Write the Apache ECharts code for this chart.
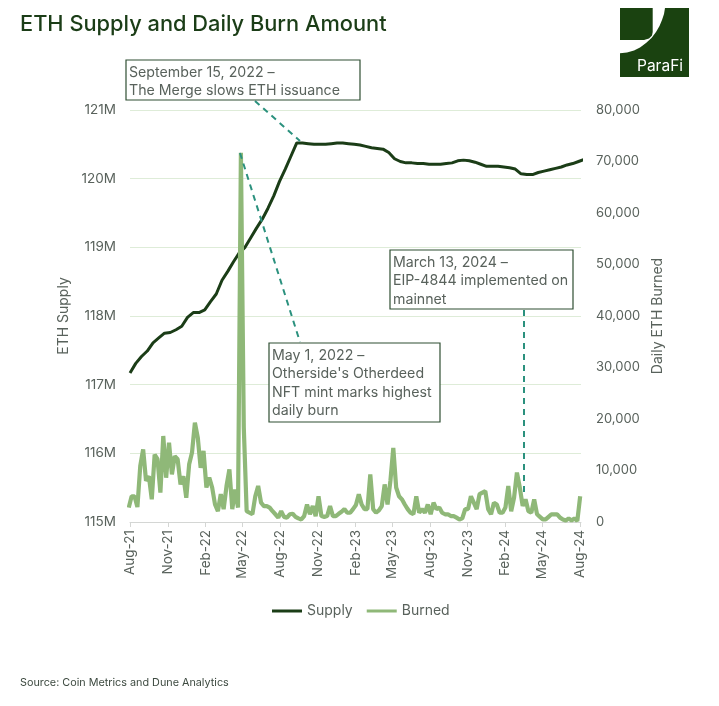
<!DOCTYPE html>
<html>
<head>
<meta charset="utf-8">
<title>ETH Supply and Daily Burn Amount</title>
<script src="https://cdn.jsdelivr.net/npm/echarts@6/dist/echarts.min.js"></script>
<style>
html,body{margin:0;padding:0;background:#fff;}
#chart{width:719px;height:706px;}
</style>
</head>
<body>
<div id="chart"></div>
<script>
var tickDates = ['2021-08-01','2021-11-01','2022-02-01','2022-05-01','2022-08-01','2022-11-01','2023-02-01','2023-05-01','2023-08-01','2023-11-01','2024-02-01','2024-05-01','2024-08-01'];
var tickLabels = ['Aug-21','Nov-21','Feb-22','May-22','Aug-22','Nov-22','Feb-23','May-23','Aug-23','Nov-23','Feb-24','May-24','Aug-24'];

// supply in millions, one reading every 2 weeks from 2021-08-01
var supply = [117.17,117.31,117.41,117.49,117.61,117.68,117.75,117.76,117.80,117.85,
  117.98,118.05,118.05,118.09,118.21,118.32,118.52,118.65,118.79,118.92,
  119.00,119.14,119.28,119.41,119.57,119.75,119.96,120.14,120.33,120.52,
  120.52,120.51,120.50,120.50,120.50,120.51,120.52,120.52,120.51,120.50,
  120.49,120.47,120.45,120.44,120.43,120.38,120.29,120.25,120.23,120.23,
  120.22,120.22,120.21,120.21,120.21,120.22,120.23,120.26,120.27,120.26,
  120.24,120.21,120.18,120.18,120.18,120.17,120.16,120.14,120.07,120.06,
  120.06,120.09,120.11,120.13,120.15,120.17,120.20,120.22,120.25,120.28];

// burned ETH, one reading every week from 2021-07-29
var burned = [2800,5000,5000,2900,10900,14100,8000,8900,4400,13100,
  12200,5700,16700,8600,15400,9250,12800,12200,7300,8900,
  4700,11200,13500,19300,16400,10500,13800,6700,8600,6700,
  3400,2100,5400,2500,7000,10200,2500,6300,2800,71700,
  18400,2100,1800,1500,5000,7000,3750,3100,3100,2800,
  2100,1500,850,2100,1000,850,1500,1600,1000,700,
  500,1150,3400,1500,3100,1150,5000,1150,1000,1150,
  3100,1150,1150,1600,2000,2500,1800,1800,2500,3300,
  5400,3400,2500,2500,9250,2500,1800,2250,3100,7300,
  3400,8000,14400,6700,5000,4400,3400,2500,1800,1500,
  5000,1800,2500,1800,3400,1500,3750,2500,2800,1800,
  1500,1500,1150,1150,850,500,700,2500,2500,5000,
  3750,2500,5400,5700,6000,2500,1500,3750,3400,1800,
  1800,2800,7000,2100,4700,9600,6700,3100,4400,2100,
  1800,4400,1500,1000,500,500,1000,1500,1500,1500,
  850,500,300,700,300,700,200,5000];

var FONT = 'Inter';
var DARK = '#1b3d17';
var LIGHT = '#8fb878';
var GRAY = '#59625c';
var TEAL = '#2b917e';
var BOX = '#2f4f33';

function toTime(s){
	var p = s.split('-');
	return new Date(+p[0], +p[1]-1, +p[2]).getTime();
}
var tickValues = tickDates.map(toTime);

var supplyData = supply.map(function(v,i){
	return [new Date(2021, 7, 1+14*i).getTime(), v];
});
var burnedData = burned.map(function(v,i){
	return [new Date(2021, 6, 29+7*i).getTime(), v];
});

//annotation box with leader line
function box(x,y,w,h,lines){
	return [{
		type:'rect', z:20,
		shape:{x:x,y:y,width:w,height:h},
		style:{fill:'#fff',stroke:BOX,lineWidth:1.2}
	},{
		type:'text', z:21, x:x+3, y:y+3,
		style:{text:lines.join('\n'),fill:GRAY,font:'14.2px '+FONT,lineHeight:18.5}
	}];
}
function leader(x1,y1,x2,y2){
	return {
		type:'line', z:15,
		shape:{x1:x1,y1:y1,x2:x2,y2:y2},
		style:{stroke:TEAL,lineWidth:2,lineDash:[6,5]}
	};
}
//white swoosh of the logo
var logoCut = [[652.7,8],[665,8],[664,14],[662,20],[659.5,26],[656,32],[651.5,38],[646,43],[640,47.5],[634,50.5],[627,52.6],[620,53.3],[620,40],[644,40],[649,38.5],[652,35.5],[652.7,32]];

var graphics = [
	{type:'text',x:20,y:13,style:{text:'ETH Supply and Daily Burn Amount',fill:DARK,font:'500 21.8px '+FONT}},
	{type:'text',x:20,y:677,style:{text:'Source: Coin Metrics and Dune Analytics',fill:'#3d4a40',font:'10.8px '+FONT}},
	{type:'rect',z:5,shape:{x:620,y:8,width:69,height:69},style:{fill:'#1a4210'}},
	{type:'polygon',z:6,shape:{points:logoCut},style:{fill:'#fff'}},
	{type:'text',z:6,x:637,y:58,style:{text:'ParaFi',fill:'#fff',font:'15.5px '+FONT}},
	leader(255,101,300,141),
	leader(240,153,300,342),
	leader(524,310,524,497)
].concat(
	box(126,60,234,40,['September 15, 2022 –','The Merge slows ETH issuance']),
	box(269,343,171,79,['May 1, 2022 –','Otherside\'s Otherdeed','NFT mint marks highest','daily burn']),
	box(390,250,183,59,['March 13, 2024 –','EIP-4844 implemented on','mainnet'])
);

var myChart = echarts.init(document.getElementById('chart'));
var option = {
	backgroundColor:'#fff',
	animation:false,
	textStyle:{fontFamily:FONT},
	grid:{left:130,right:138,top:110,bottom:184},
	legend:{
		left:267,top:599,icon:'rect',itemWidth:30,itemHeight:3,itemGap:14,
		textStyle:{color:GRAY,fontSize:14,fontFamily:FONT},
		data:['Supply','Burned']
	},
	xAxis:{
		//value axis holding timestamps, time axis breaks on customValues
		type:'value',
		min:toTime('2021-08-01'),
		max:toTime('2024-08-03'),
		splitLine:{show:false},
		axisLine:{lineStyle:{color:'#d4d6d4'}},
		axisTick:{show:true,length:5,customValues:tickValues,lineStyle:{color:'#d4d6d4'}},
		axisLabel:{
			customValues:tickValues,
			rotate:90,margin:8,color:GRAY,fontSize:13.5,fontFamily:FONT,
			formatter:function(v){ return tickLabels[tickValues.indexOf(v)]; }
		}
	},
	yAxis:[{
		type:'value',min:115,max:121,interval:1,
		name:'ETH Supply',nameLocation:'middle',nameRotate:90,nameGap:57,
		nameTextStyle:{color:GRAY,fontSize:14,fontFamily:FONT},
		axisLine:{show:false},axisTick:{show:false},
		axisLabel:{color:GRAY,fontSize:13.5,margin:14,fontFamily:FONT,formatter:'{value}M'},
		splitLine:{lineStyle:{color:'#deecd8',width:1.2}}
	},{
		type:'value',min:0,max:80000,interval:10000,
		name:'Daily ETH Burned',nameLocation:'middle',nameRotate:90,nameGap:64,
		nameTextStyle:{color:GRAY,fontSize:14,fontFamily:FONT},
		axisLine:{show:false},axisTick:{show:false},
		axisLabel:{color:GRAY,fontSize:13,margin:15,fontFamily:FONT,
			formatter:function(v){ return v.toLocaleString('en-US'); }},
		splitLine:{show:false}
	}],
	series:[{
		name:'Supply',type:'line',yAxisIndex:0,
		data:supplyData,showSymbol:false,symbol:'none',
		itemStyle:{color:DARK},
		lineStyle:{color:DARK,width:3}
	},{
		name:'Burned',type:'line',yAxisIndex:1,
		data:burnedData,showSymbol:false,symbol:'none',
		itemStyle:{color:LIGHT},
		lineStyle:{color:LIGHT,width:4.2}
	}],
	graphic:{elements:graphics}
};
myChart.setOption(option);
</script>
</body>
</html>
